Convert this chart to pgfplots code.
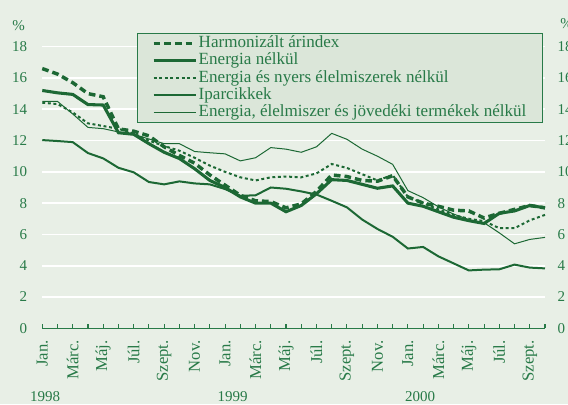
\documentclass[border=0pt]{standalone}
\usepackage{fontspec}
\setmainfont{Liberation Serif}
\usepackage{pgfplots}
\pgfplotsset{compat=1.18}
\definecolor{lc}{RGB}{28,104,52}
\definecolor{tc}{RGB}{40,122,72}
\definecolor{bg}{RGB}{232,239,230}
\definecolor{legbg}{RGB}{219,230,217}
\begin{document}
\begin{tikzpicture}
\fill[bg] (-31.7pt,-56.8pt) rectangle (394.25pt,246.2pt);
\begin{axis}[
  scale only axis, width=377pt, height=211.2pt, clip=false,
  xmin=0, xmax=33, ymin=0, ymax=18,
  axis x line*=bottom, axis y line*=left,
  y axis line style={draw=none},
  x axis line style={draw=tc, line width=0.9pt},
  ytick={0,2,...,18},
  ytick style={draw=none},
  ymajorgrids, grid style={white, line width=1.2pt},
  xtick={0,2,...,32}, minor xtick={1,3,...,33},
  xticklabels={Jan.,Márc.,Máj.,Júl.,Szept.,Nov.,Jan.,Márc.,Máj.,Júl.,Szept.,Nov.,Jan.,Márc.,Máj.,Júl.,Szept.},
  tick align=inside, major tick length=3.5pt, minor tick length=3.5pt,
  xtick style={draw=tc, line width=0.8pt},
  xticklabel style={inner sep=0pt, yshift=-8.8pt, rotate=90, anchor=east, font=\fontsize{12.5}{14}\selectfont, text=tc},
  yticklabel style={xshift=-7.75pt, font=\fontsize{11.25}{13}\selectfont, text=tc},
  /pgf/number format/assume math mode=true,
  legend style={at={(0.188,1.049)}, anchor=north west, fill=legbg, draw=tc, line width=0.7pt,
    font=\fontsize{12.8}{13}\selectfont, text=tc, inner xsep=11pt, inner ysep=1pt,
    row sep=0pt, nodes={inner sep=1pt, text height=8.7pt, text depth=2.3pt}},
  legend cell align=left,
  legend image code/.code={\draw[#1] (0pt,0pt) -- (31.5pt,0pt);},
]
\addplot[lc, line width=2.6pt, dash pattern=on 5pt off 3pt] coordinates {
(0,16.6)(1,16.25)(2,15.7)(3,15.0)(4,14.8)(5,12.75)(6,12.6)(7,12.3)(8,11.6)(9,11.05)(10,10.55)(11,9.8)(12,9.15)(13,8.5)(14,8.15)(15,8.1)(16,7.7)(17,7.95)(18,8.75)(19,9.8)(20,9.7)(21,9.45)(22,9.4)(23,9.75)(24,8.4)(25,8.0)(26,7.8)(27,7.55)(28,7.5)(29,7.05)(30,7.35)(31,7.6)(32,7.85)(33,7.7)};
\addlegendentry{Harmonizált árindex}
\addplot[lc, line width=2.3pt] coordinates {
(0,15.2)(1,15.05)(2,14.95)(3,14.3)(4,14.27)(5,12.5)(6,12.4)(7,11.8)(8,11.25)(9,10.85)(10,10.2)(11,9.45)(12,9.0)(13,8.4)(14,8.0)(15,8.0)(16,7.45)(17,7.85)(18,8.6)(19,9.5)(20,9.45)(21,9.2)(22,8.95)(23,9.1)(24,8.0)(25,7.8)(26,7.45)(27,7.1)(28,6.88)(29,6.7)(30,7.35)(31,7.5)(32,7.85)(33,7.7)};
\addlegendentry{Energia nélkül}
\addplot[lc, line width=1.5pt, dash pattern=on 2.2pt off 2pt] coordinates {
(0,14.42)(1,14.33)(2,13.8)(3,13.1)(4,12.93)(5,12.75)(6,12.45)(7,12.0)(8,11.65)(9,11.35)(10,10.9)(11,10.4)(12,10.0)(13,9.65)(14,9.45)(15,9.65)(16,9.7)(17,9.65)(18,9.9)(19,10.5)(20,10.25)(21,9.85)(22,9.45)(23,9.8)(24,8.4)(25,8.0)(26,7.6)(27,7.25)(28,7.0)(29,6.85)(30,6.4)(31,6.4)(32,6.9)(33,7.25)};
\addlegendentry{Energia és nyers élelmiszerek nélkül}
\addplot[lc, line width=1.5pt] coordinates {
(0,12.03)(1,11.97)(2,11.9)(3,11.2)(4,10.86)(5,10.26)(6,9.97)(7,9.35)(8,9.2)(9,9.39)(10,9.26)(11,9.2)(12,8.9)(13,8.47)(14,8.5)(15,9.0)(16,8.92)(17,8.75)(18,8.55)(19,8.15)(20,7.73)(21,6.95)(22,6.35)(23,5.85)(24,5.1)(25,5.2)(26,4.6)(27,4.15)(28,3.7)(29,3.75)(30,3.77)(31,4.07)(32,3.88)(33,3.83)};
\addlegendentry{Iparcikkek}
\addplot[lc, line width=0.75pt] coordinates {
(0,14.5)(1,14.5)(2,13.7)(3,12.84)(4,12.76)(5,12.55)(6,12.4)(7,12.1)(8,11.8)(9,11.8)(10,11.3)(11,11.22)(12,11.15)(13,10.7)(14,10.9)(15,11.55)(16,11.45)(17,11.25)(18,11.6)(19,12.46)(20,12.08)(21,11.45)(22,11.0)(23,10.48)(24,8.8)(25,8.35)(26,7.77)(27,7.3)(28,6.95)(29,6.75)(30,6.1)(31,5.4)(32,5.68)(33,5.81)};
\addlegendentry{Energia, élelmiszer és jövedéki termékek nélkül}
\node[anchor=north, inner sep=0pt, text=tc, font=\fontsize{11.25}{13}\selectfont] at (axis cs:0.18,0) [yshift=-47pt] {1998};
\node[anchor=north, inner sep=0pt, text=tc, font=\fontsize{11.25}{13}\selectfont] at (axis cs:12.5,0) [yshift=-47pt] {1999};
\node[anchor=north, inner sep=0pt, text=tc, font=\fontsize{11.25}{13}\selectfont] at (axis cs:24.8,0) [yshift=-47pt] {2000};
\end{axis}
\begin{axis}[
  scale only axis, width=377pt, height=211.2pt,
  xmin=0, xmax=33, ymin=0, ymax=18,
  hide x axis, axis y line*=right,
  y axis line style={draw=none}, ytick style={draw=none},
  ytick={0,2,...,18},
  yticklabel style={xshift=6pt, font=\fontsize{11.25}{13}\selectfont, text=tc},
  /pgf/number format/assume math mode=true,
]
\addplot[draw=none] coordinates {(0,0)};
\end{axis}
\node[anchor=base west, inner sep=0pt, text=tc, font=\fontsize{11.25}{13}\selectfont] at (-22.7pt,223.7pt) {\%};
\node[anchor=base west, inner sep=0pt, text=tc, font=\fontsize{11.25}{13}\selectfont] at (388.3pt,225pt) {\%};
\pgfresetboundingbox
\path[use as bounding box] (-31.7pt,-56.8pt) rectangle (394.25pt,246.2pt);
\end{tikzpicture}
\end{document}
